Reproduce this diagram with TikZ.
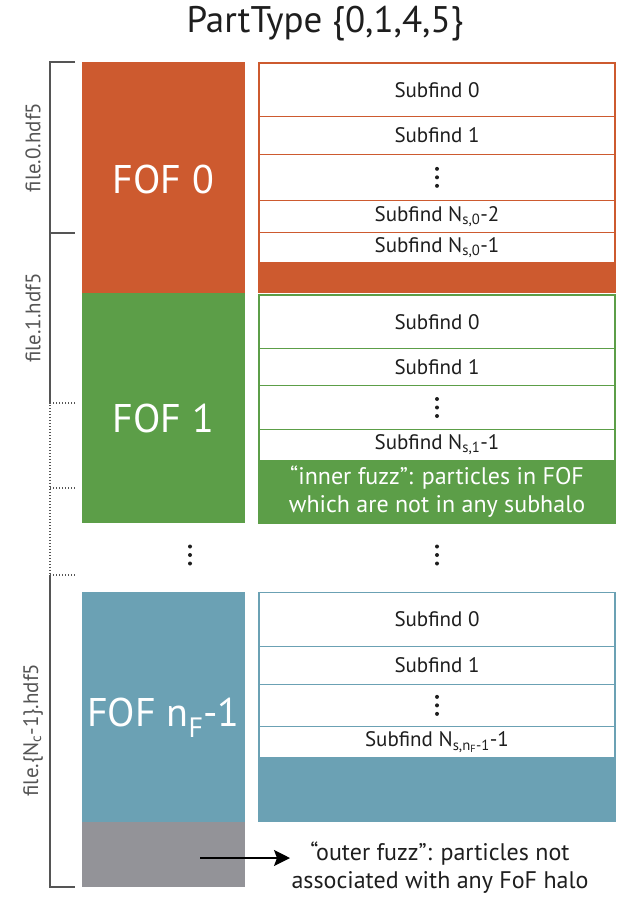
\documentclass[tikz,border=0pt]{standalone}
\usepackage{fontspec}
\setmainfont{PT Sans}
\usetikzlibrary{arrows.meta}

\definecolor{fofred}{HTML}{CD5A2F}
\definecolor{fofgreen}{HTML}{5C9E48}
\definecolor{fofblue}{HTML}{6BA1B4}
\definecolor{fuzzgray}{HTML}{939398}
\definecolor{inkdark}{HTML}{1E1E1E}
\definecolor{bracketgray}{HTML}{555555}

\tikzset{
  halo/.style={fill=#1, draw=none, inner sep=0pt, outer sep=0pt,
    anchor=north west, minimum width=163pt},
  fofname/.style={text=white, inner sep=0pt, font=\fontsize{40}{46}\selectfont},
  subrow/.style={draw=#1, line width=0.9pt, fill=white, inner sep=0pt, outer sep=0pt,
    anchor=north west, minimum width=356pt, text=inkdark,
    font=\fontsize{21}{24}\selectfont},
  fuzzrow/.style={fill=#1, draw=#1, line width=0.9pt, inner sep=0pt, outer sep=0pt,
    anchor=north west, minimum width=356pt},
  frame/.style={draw=#1, line width=1.4pt},
  filelabel/.style={rotate=90, text=bracketgray, inner sep=0pt,
    font=\fontsize{21}{24}\selectfont},
  bracket/.style={draw=bracketgray, line width=1.1pt},
  dottedbracket/.style={draw=bracketgray, line width=1.3pt, dash pattern=on 1.3pt off 1.7pt},
  note/.style={align=center, inner sep=0pt, font=\fontsize{24}{28}\selectfont},
  dotmark/.style={fill=inkdark},
}

% a block of the subfind column: name, top, bottom, colour, text
\newcommand\sfrow[5]{\node[subrow=#4, minimum height={#3pt-#2pt}] (#1) at (259,#2) {#5};}
% three stacked dots centred on a named node
\newcommand\threedots[1]{%
  \fill[dotmark] ([yshift=8.5pt]#1.center) circle (2pt)
                 (#1.center) circle (2pt)
                 ([yshift=-8.5pt]#1.center) circle (2pt);}

\begin{document}
\begin{tikzpicture}[x=1pt, y=-1pt]
\useasboundingbox (0,0) rectangle (618,901);
\fill[white] (0,0) rectangle (618,901);

% heading
\node[inner sep=0pt, text=inkdark, font=\fontsize{37}{42}\selectfont] (title) at (325,24) {PartType \{0,1,4,5\}};

% FOF groups (left column)
\node[halo=fofred,   minimum height=231pt]   (fof0)  at (82,62)    {};
\node[halo=fofgreen, minimum height=230pt]   (fof1)  at (82,293)   {};
\node[halo=fofblue,  minimum height=230.5pt] (fofn)  at (82,591.5) {};
\node[halo=fuzzgray, minimum height=65pt]    (outer) at (82,822)   {};
\node[fofname] (fof0name) at (163.5,180) {FOF 0};
\node[fofname] (fof1name) at (163.5,418) {FOF 1};
\node[fofname] (fofnname) at (163.5,718) {FOF n\textsubscript{F}-1};

% subhalos of FOF 0
\sfrow{a0}{63}{116.7}{fofred}{Subfind 0}
\sfrow{a1}{116.7}{154}{fofred}{Subfind 1}
\sfrow{adots}{154}{200.7}{fofred}{}
\sfrow{a2}{200.7}{232.3}{fofred}{Subfind N\textsubscript{s,0}-2}
\sfrow{a3}{232.3}{262.3}{fofred}{Subfind N\textsubscript{s,0}-1}
\node[fuzzrow=fofred, minimum height=30pt] (afuzz) at (259,262.3) {};
\draw[frame=fofred] (259,63) rectangle (615,292.3);
\threedots{adots}

% subhalos of FOF 1
\sfrow{b0}{295}{348.3}{fofgreen}{Subfind 0}
\sfrow{b1}{348.3}{385.7}{fofgreen}{Subfind 1}
\sfrow{bdots}{385.7}{429.3}{fofgreen}{}
\sfrow{b2}{429.3}{460}{fofgreen}{Subfind N\textsubscript{s,1}-1}
\node[fuzzrow=fofgreen, minimum height=63.3pt] (bfuzz) at (259,460) {};
\draw[frame=fofgreen] (259,295) rectangle (615,523.3);
\threedots{bdots}
\node[note, text=white] (innerfuzz) at (bfuzz.center)
  {“inner fuzz”: particles in FOF\\which are not in any subhalo};

% groups in between
\coordinate (leftgap) at (190,555);
\coordinate (rightgap) at (437,555);
\threedots{leftgap}
\threedots{rightgap}

% subhalos of FOF n_F-1
\sfrow{c0}{592.3}{646}{fofblue}{Subfind 0}
\sfrow{c1}{646}{684}{fofblue}{Subfind 1}
\sfrow{cdots}{684}{726.7}{fofblue}{}
\sfrow{c2}{726.7}{757.7}{fofblue}{Subfind N\textsubscript{s,n\textsubscript{F}-1}-1}
\node[fuzzrow=fofblue, minimum height=64pt] (cfuzz) at (259,757.7) {};
\draw[frame=fofblue] (259,592.3) rectangle (615,821.7);
\threedots{cdots}

% particles outside every group
\node[note, text=inkdark] (outertext) at (440,868)
  {“outer fuzz”: particles not\\associated with any FoF halo};
\coordinate (arrowstart) at (200,858);
\coordinate (arrowend) at (290,858);
\draw[line width=1.6pt, -{Stealth[length=16pt, width=16pt, inset=3pt]}] (arrowstart) -- (arrowend);

% file brackets
\draw[bracket] (75,62) -- (50,62) -- (50,233) -- (75,233);
\draw[bracket] (50,233) -- (50,403);
\draw[dottedbracket] (75,403) -- (50,403) -- (50,575);
\draw[dottedbracket] (50,488) -- (75,488);
\draw[dottedbracket] (50,575) -- (75,575);
\draw[bracket] (50,575) -- (50,887) -- (75,887);
\node[filelabel] (file0) at (33,147.5) {file.0.hdf5};
\node[filelabel] (file1) at (33,318) {file.1.hdf5};
\node[filelabel] (filelast) at (33,730) {file.\{N\textsubscript{c}-1\}.hdf5};
\end{tikzpicture}
\end{document}
